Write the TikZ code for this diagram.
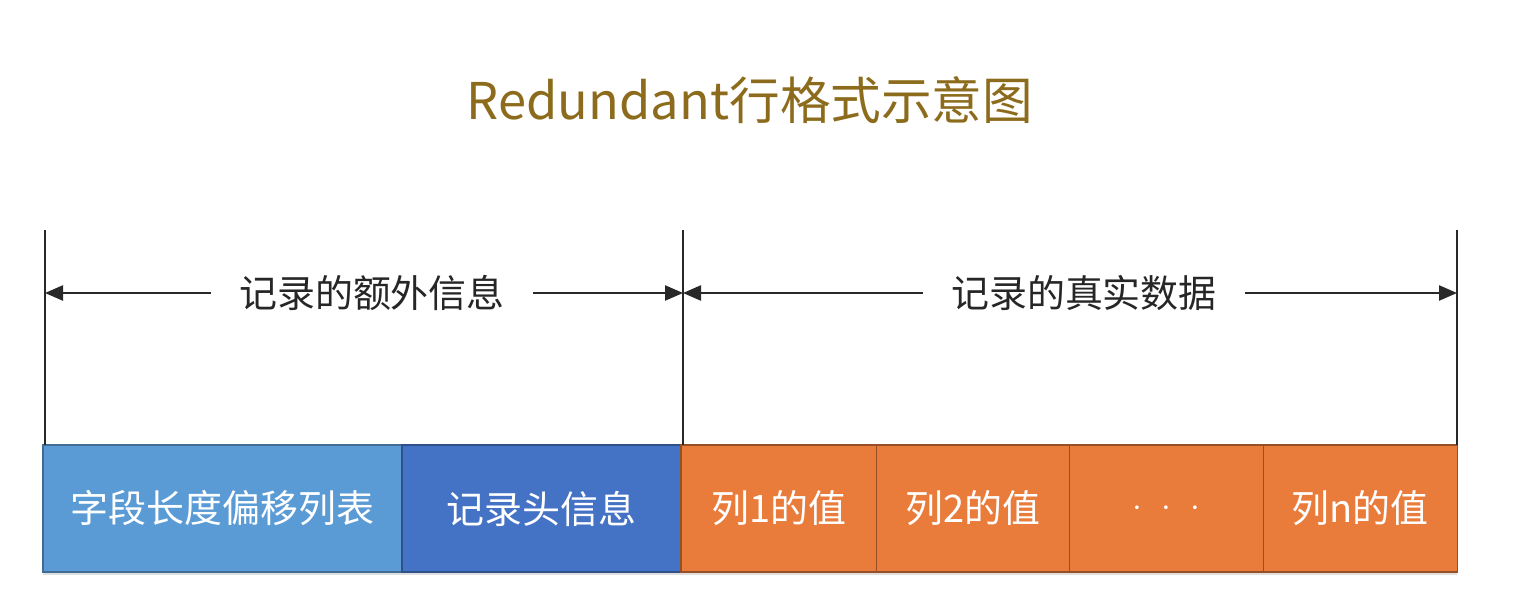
\documentclass[tikz,border=0pt]{standalone}
\usepackage{fontspec}
\setmainfont{Noto Sans CJK SC}
\usepackage{xcolor}
\usetikzlibrary{positioning, arrows.meta, shadows}

\definecolor{titlegold}{RGB}{140,108,28}
\definecolor{fieldblue}{RGB}{91,155,213}
\definecolor{headblue}{RGB}{68,114,196}
\definecolor{colorange}{RGB}{233,123,59}
\definecolor{guidegray}{RGB}{40,40,40}

\begin{document}
\begin{tikzpicture}[x=0.025cm, y=-0.025cm,
  cell/.style={line width=1pt, minimum height=3.175cm, inner sep=0pt,
              outer sep=0pt, text=white, font=\fontsize{27}{32}\selectfont,
              drop shadow={shadow xshift=0pt, shadow yshift=-2pt, opacity=0.25}},
  span/.style={font=\fontsize{27}{32}\selectfont, text=black!85,
              inner xsep=0.7cm, inner ysep=0pt},
  guide/.style={draw=guidegray, line width=1.2pt},
  dimarrow/.style={-{Triangle[length=0.45cm, width=0.38cm]}, draw=guidegray,
              line width=1.2pt}
]
  \useasboundingbox (0,0) rectangle (1513,604);
  \node[font=\fontsize{36}{43}\selectfont, text=titlegold] (title) at (750,100)
    {Redundant行格式示意图};
  % record cells
  \node[cell, fill=fieldblue, draw=fieldblue!70!black, minimum width=8.975cm,
        anchor=north west] (offsets) at (43,445) {字段长度偏移列表};
  \node[cell, fill=headblue, draw=headblue!70!black, minimum width=6.975cm,
        right=0pt of offsets] (header) {记录头信息};
  \node[cell, fill=colorange, draw=colorange!65!black, minimum width=4.875cm,
        right=0pt of header] (col1) {列1的值};
  \node[cell, fill=colorange, draw=colorange!65!black, minimum width=4.825cm,
        right=0pt of col1] (col2) {列2的值};
  \node[cell, fill=colorange, draw=colorange!65!black, minimum width=4.85cm,
        right=0pt of col2] (dots)
        {\(\cdot\hspace{0.3em}\cdot\hspace{0.3em}\cdot\)};
  \node[cell, fill=colorange, draw=colorange!65!black, minimum width=4.85cm,
        right=0pt of dots] (coln) {列n的值};
  % guide lines
  \coordinate (top0) at (45,230);
  \coordinate (top1) at (683,230);
  \coordinate (top2) at (1457,230);
  \draw[guide] (top0) -- (top0 |- offsets.north);
  \draw[guide] (top1) -- (top1 |- header.north);
  \draw[guide] (top2) -- (top2 |- coln.north);
  % spans
  \node[span] (extra) at (372,293) {记录的额外信息};
  \node[span] (data)  at (1084,293) {记录的真实数据};
  \draw[dimarrow] (extra.west) -- (extra.west -| top0);
  \draw[dimarrow] (extra.east) -- (extra.east -| top1);
  \draw[dimarrow] (data.west) -- (data.west -| top1);
  \draw[dimarrow] (data.east) -- (data.east -| top2);
\end{tikzpicture}
\end{document}
